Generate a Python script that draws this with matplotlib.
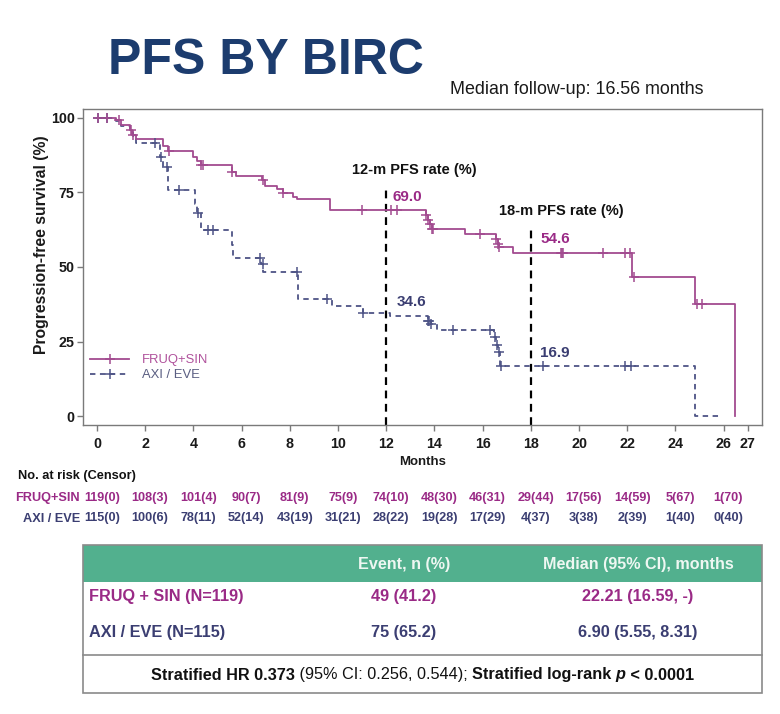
import numpy as np
import matplotlib
matplotlib.use("Agg")
import matplotlib.pyplot as plt
from matplotlib.lines import Line2D
from matplotlib.patches import Rectangle
import matplotlib.transforms as mtransforms

REG = 'Liberation Sans'
plt.rcParams['font.family'] = [REG, 'DejaVu Sans']

# ---------------- data ----------------
fruq_times = [0, 0.8, 1.0, 1.35, 1.45, 1.6, 2.75, 2.95, 4.0, 4.15, 4.3, 5.6, 5.75, 6.85, 6.95,
              7.45, 7.7, 8.15, 8.3, 9.65, 13.65, 13.72, 13.8, 13.88, 15.27, 16.56, 16.62, 16.68,
              17.27, 22.19, 24.8, 26.47]
fruq_surv = [100, 99.2, 97.5, 95.8, 94.2, 92.9, 90.6, 88.8, 87.0, 85.4, 84.2, 82.0, 80.6, 79.2, 77.3,
             76.0, 74.8, 73.6, 72.7, 69.0, 67.4, 65.9, 64.4, 62.6, 61.1, 59.4, 57.8, 56.6,
             54.6, 46.7, 37.5, 0]
fruq_end = 26.47
fruq_censor = [0.05, 0.4, 0.9, 1.4, 1.5, 3.0, 4.3, 4.4, 5.6, 6.9, 7.7, 11.0, 12.2, 12.45, 13.65, 13.72,
               13.8, 13.88, 13.95, 15.9, 16.56, 16.62, 16.68, 19.25, 19.3, 19.35, 21.0, 21.9, 22.1,
               22.3, 24.88, 25.09]

axi_times = [0, 0.8, 1.0, 1.35, 1.5, 1.6, 2.6, 2.75, 2.95, 4.07, 4.15, 4.3, 5.59, 5.65, 6.8, 6.9,
             8.35, 9.74, 11.02, 12.15, 13.72, 13.85, 14.1, 16.47, 16.55, 16.62, 16.7, 24.81]
axi_surv = [100, 99.1, 97.4, 95.7, 93.9, 91.7, 87.0, 83.5, 75.8, 71.0, 68.0, 62.4, 57.5, 52.9, 51.0, 48.4,
            39.1, 36.9, 34.6, 33.7, 32.0, 30.9, 28.9, 26.5, 24.0, 21.5, 16.9, 0]
axi_end = 25.85
axi_censor = [0.05, 0.4, 2.4, 2.65, 2.9, 3.4, 4.2, 4.6, 4.8, 6.76, 6.87, 8.3, 9.53, 11.02, 13.72, 13.78,
              13.85, 14.76, 16.3, 16.5, 16.58, 16.66, 16.75, 18.49, 21.9, 22.15]

risk_months = [0, 2, 4, 6, 8, 10, 12, 14, 16, 18, 20, 22, 24, 26]
fruq_risk = ["119(0)", "108(3)", "101(4)", "90(7)", "81(9)", "75(9)", "74(10)", "48(30)", "46(31)",
             "29(44)", "17(56)", "14(59)", "5(67)", "1(70)"]
axi_risk = ["115(0)", "100(6)", "78(11)", "52(14)", "43(19)", "31(21)", "28(22)", "19(28)", "17(29)",
            "4(37)", "3(38)", "2(39)", "1(40)", "0(40)"]

x_ticks = [0, 2, 4, 6, 8, 10, 12, 14, 16, 18, 20, 22, 24, 26, 27]
y_ticks = [0, 25, 50, 75, 100]

landmarks = [12, 18]
landmark_labels = ["12-m PFS rate (%)", "18-m PFS rate (%)"]
fruq_rates = [69.0, 54.6]
axi_rates = [34.6, 16.9]

series_names = ["FRUQ+SIN", "AXI / EVE"]
table_rows = ["FRUQ + SIN (N=119)", "AXI / EVE (N=115)"]
table_events = ["49 (41.2)", "75 (65.2)"]
table_medians = ["22.21 (16.59, -)", "6.90 (5.55, 8.31)"]

# ---------------- style ----------------
PURPLE_LINE = '#a24b90'
NAVY_LINE = '#4e5486'
PURPLE_TXT = '#9a2a86'
NAVY_TXT = '#3b3e72'
GREEN = '#52b08e'

W, H = 780, 714
fig = plt.figure(figsize=(W / 100, H / 100), dpi=100)
fig.patch.set_facecolor('white')

def fx(x):
    return x / W

def fy(y):
    return 1 - y / H

ax_l, ax_r, ax_t, ax_b = 83, 762, 109, 425
ax = fig.add_axes([fx(ax_l), fy(ax_b), (ax_r - ax_l) / W, (ax_b - ax_t) / H])
ax.set_xlim(-0.58, 27.59)
ax.set_ylim(-3.0, 103.0)

def step_value(times, surv, t):
    idx = np.searchsorted(times, t, side='right') - 1
    return np.asarray(surv)[idx]

def draw_curve(times, surv, end, censor, color, ls):
    tt = np.r_[times, end]
    ss = np.r_[surv, surv[-1]]
    ax.step(tt, ss, where='post', color=color, lw=1.3, ls=ls, zorder=3)
    cy = [step_value(np.asarray(times), surv, c) for c in censor]
    ax.plot(censor, cy, ls='none', marker='+', ms=7, mew=1.1, color=color, zorder=4)

draw_curve(axi_times, axi_surv, axi_end, axi_censor, NAVY_LINE, (0, (3, 2.5)))
draw_curve(fruq_times, fruq_surv, fruq_end, fruq_censor, PURPLE_LINE, '-')

# landmark lines
tops = [76.4, 62.4]
for lm, top in zip(landmarks, tops):
    ax.plot([lm, lm], [-3.0, top], color='black', lw=1.6, ls=(0, (3.5, 2.5)), zorder=2)

ax.text(10.58, 82.6, landmark_labels[0], fontsize=10.5, weight='bold', ha='left', va='center', color='#111111')
ax.text(16.66, 68.8, landmark_labels[1], fontsize=10.5, weight='bold', ha='left', va='center', color='#111111')
ax.text(12.28, 73.6, f"{fruq_rates[0]:.1f}", fontsize=11, weight='bold', ha='left', va='center', color=PURPLE_TXT)
ax.text(18.38, 59.3, f"{fruq_rates[1]:.1f}", fontsize=11, weight='bold', ha='left', va='center', color=PURPLE_TXT)
ax.text(12.43, 38.4, f"{axi_rates[0]:.1f}", fontsize=11, weight='bold', ha='left', va='center', color=NAVY_TXT)
ax.text(18.38, 21.0, f"{axi_rates[1]:.1f}", fontsize=11, weight='bold', ha='left', va='center', color=NAVY_TXT)

# axes style
for sp in ax.spines.values():
    sp.set_color('#7a7a7a')
    sp.set_linewidth(1.0)
ax.set_xticks(x_ticks)
ax.set_xticklabels([str(t) for t in x_ticks])
ax.set_yticks(y_ticks)
ax.set_yticklabels([str(t) for t in y_ticks])
ax.tick_params(axis='both', direction='out', length=4, width=1, color='#7a7a7a',
               labelsize=10.3, labelcolor='#1a1a1a')
ax.tick_params(axis='x', pad=5)
ax.tick_params(axis='y', pad=2)
for lab in ax.get_xticklabels() + ax.get_yticklabels():
    lab.set_fontweight('bold')

ax.set_xlabel("Months", fontsize=9.5, weight='bold', color='#1a1a1a')
ax.xaxis.set_label_coords(0.5, -0.097)
ax.set_ylabel("Progression-free survival (%)", fontsize=11.3, weight='bold', color='#1a1a1a')
ax.yaxis.set_label_coords(-0.05, 0.57)

# legend
handles = [Line2D([], [], color=PURPLE_LINE, lw=1.3, marker='+', ms=7, mew=1.1),
           Line2D([], [], color=NAVY_LINE, lw=1.3, ls=(0, (3, 2.5)), marker='+', ms=7, mew=1.1)]
leg = ax.legend(handles, series_names, loc='upper left', bbox_to_anchor=(0.0103, 0.224),
                frameon=False, fontsize=9.4, handlelength=3.0, handletextpad=1.0,
                labelspacing=0.2, borderpad=0, borderaxespad=0, numpoints=1)
leg.get_texts()[0].set_color('#b0529c')
leg.get_texts()[1].set_color('#5a5e82')

# title
fig.text(fx(266), fy(74), "PFS BY BIRC", fontsize=36, weight='bold', color='#1c3c6e',
         ha='center', va='baseline')
fig.text(fx(450), fy(93.5), "Median follow-up: 16.56 months", fontsize=12.9, color='#1a1a1a',
         ha='left', va='baseline')

# number at risk table
fig.text(fx(18), fy(479.5), "No. at risk (Censor)", fontsize=9.2, weight='bold', color='#111111',
         ha='left', va='baseline')
blend = mtransforms.blended_transform_factory(ax.transData, fig.transFigure)
row_y = [fy(501.5), fy(521.5)]
row_cols = [PURPLE_TXT, NAVY_TXT]
for name, yy, col, vals in zip(series_names, row_y, row_cols, [fruq_risk, axi_risk]):
    fig.text(fx(80), yy, name, fontsize=9.2, weight='bold', color=col, ha='right', va='baseline')
    for m, v in zip(risk_months, vals):
        ax.text(m + 0.2, yy, v, transform=blend, fontsize=9.1, weight='bold', color=col,
                ha='center', va='baseline', clip_on=False)

# summary table
tl, tr, tt, tb = 82.7, 761.7, 545, 693
fig.add_artist(Rectangle((fx(tl), fy(582)), (tr - tl) / W, (582 - tt) / H, transform=fig.transFigure,
                         facecolor=GREEN, edgecolor='none'))
fig.add_artist(Rectangle((fx(tl), fy(tb)), (tr - tl) / W, (tb - tt) / H, transform=fig.transFigure,
                         facecolor='none', edgecolor='#8a8a8a', lw=1.2))
fig.add_artist(Line2D([fx(tl), fx(tr)], [fy(655), fy(655)], transform=fig.transFigure,
                      color='#8a8a8a', lw=1.2))
col1, col2 = 404, 638
fig.text(fx(col1), fy(568.5), "Event, n (%)", fontsize=11.6, weight='bold', color='#eef7f2',
         ha='center', va='baseline')
fig.text(fx(col2), fy(568.5), "Median (95% CI), months", fontsize=11.6, weight='bold', color='#eef7f2',
         ha='center', va='baseline')
for lbl, ev, med, yy, col in zip(table_rows, table_events, table_medians, [600.5, 636.5], row_cols):
    fig.text(fx(89), fy(yy), lbl, fontsize=11.7, weight='bold', color=col, ha='left', va='baseline')
    fig.text(fx(col1), fy(yy), ev, fontsize=11.7, weight='bold', color=col, ha='center', va='baseline')
    fig.text(fx(col2), fy(yy), med, fontsize=11.7, weight='bold', color=col, ha='center', va='baseline')

pieces = [("Stratified HR 0.373", 'bold', 'normal'),
          (" (95% CI: 0.256, 0.544); ", 'normal', 'normal'),
          ("Stratified log-rank ", 'bold', 'normal'),
          ("p", 'bold', 'italic'),
          (" < 0.0001", 'bold', 'normal')]
first = fig.text(fx(152), fy(679.5), pieces[0][0], fontsize=11.7, weight=pieces[0][1], style=pieces[0][2],
                 color='#111111', ha='left', va='baseline')
prev = first
arts = [first]
for s, wgt, sty in pieces[1:]:
    a = ax.annotate(s, xy=(1, 0), xycoords=prev, xytext=(0, 0), textcoords='offset points',
                    fontsize=11.7, weight=wgt, style=sty, color='#111111', ha='left', va='bottom',
                    annotation_clip=False)
    arts.append(a)
    prev = a

fig.canvas.draw()
r = fig.canvas.get_renderer()
x0 = arts[0].get_window_extent(r).x0
x1 = arts[-1].get_window_extent(r).x1
width = x1 - x0
center = (tl + tr) / 2
first.set_x(fx(center - width / 2))

fig.savefig("out.png", dpi=100, facecolor='white')
